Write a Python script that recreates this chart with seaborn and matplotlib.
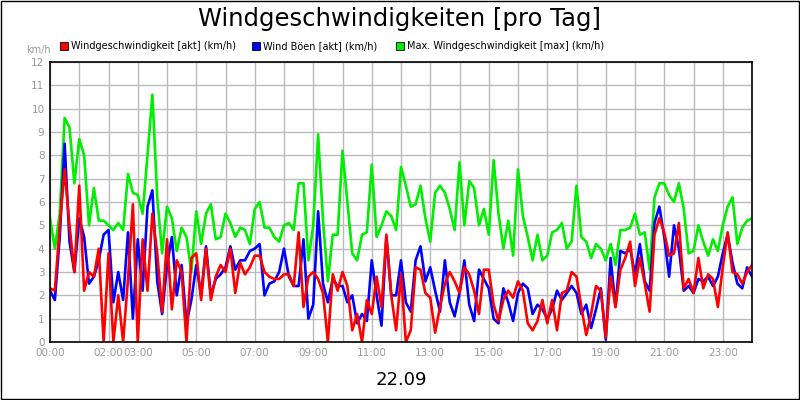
import numpy as np
import pandas as pd
import seaborn as sns
import matplotlib
matplotlib.use("Agg")
import matplotlib.pyplot as plt
from matplotlib.patches import Rectangle

wind_akt = [2.3,2.2,5.0,7.4,5.0,3.0,6.7,2.2,3.0,2.8,4.0,0,3.8,0,2.0,0,2.7,5.9,0,4.4,2.2,5.5,3.8,1.3,4.4,1.4,3.5,3.0,0,3.6,3.8,1.8,4.0,1.8,2.8,3.3,3.0,
            4.0,2.1,3.4,2.9,3.2,3.7,3.7,3.0,2.8,2.7,2.7,2.9,2.9,2.4,4.7,1.5,2.8,3.0,2.7,2.1,0,2.9,2.2,3.0,2.4,0.5,1.2,0,1.8,1.2,2.8,1.5,4.6,2.0,0.5,2.9,
            0,0.5,3.2,3.1,2.1,1.9,0.4,1.5,2.5,3.0,2.6,2.1,3.2,2.9,2.2,1.2,3.1,3.1,1.6,0.9,1.8,2.2,1.9,2.6,2.2,0.8,0.5,0.9,1.8,0.8,1.8,0.5,2.1,2.2,3.0,2.8,
            1.5,0.3,1.2,2.4,2.2,0.2,2.8,1.5,3.1,3.6,4.3,2.4,3.6,2.5,1.3,4.6,5.3,4.7,3.7,3.8,5.1,2.3,2.7,2.1,3.6,2.3,2.9,2.7,1.5,3.2,4.7,3.0,2.9,2.5,3.0,3.3]
boeen_akt = [2.2,1.8,4.5,8.5,4.3,3.0,5.3,4.5,2.5,2.8,3.5,4.6,4.8,1.7,3.0,1.8,4.7,1.0,4.4,2.2,5.8,6.5,2.6,1.2,3.3,4.5,2.0,3.3,0.8,1.8,3.3,2.0,4.1,2.0,2.7,2.9,3.2,
             4.1,3.1,3.5,3.5,3.9,4.0,4.2,2.0,2.5,2.6,3.0,4.0,2.8,2.4,2.4,4.4,1.0,1.6,5.6,2.5,1.7,2.7,2.4,2.4,1.7,2.0,0.8,1.2,0.9,3.5,2.0,0.7,4.5,2.0,2.0,3.5,
             1.7,1.3,3.5,4.1,2.6,3.2,2.2,1.3,3.5,1.7,1.1,2.1,3.5,1.6,0.9,3.1,2.7,2.3,1.0,0.8,2.3,1.7,0.9,2.1,2.5,2.3,1.2,1.6,1.4,1.0,1.4,2.2,1.8,2.1,2.4,2.1,
             1.2,1.6,0.6,1.4,2.3,0.1,3.6,1.5,3.9,3.8,4.0,2.9,4.2,2.6,2.2,5.1,5.8,4.5,2.8,5.0,4.0,2.2,2.4,2.1,2.7,2.6,2.8,2.4,2.8,3.8,4.6,3.4,2.5,2.3,3.2,2.8]
wind_max = [5.3,4.0,5.5,9.6,9.2,6.8,8.7,8.0,5.0,6.6,5.2,5.2,5.0,4.8,5.1,4.8,7.2,6.4,6.3,5.5,8.0,10.6,6.2,3.8,5.8,5.3,3.9,4.9,4.5,3.0,5.6,4.2,5.5,5.9,4.4,4.5,5.5,
            5.1,4.5,4.9,4.8,4.2,5.7,6.0,4.9,4.9,4.5,4.3,5.0,5.1,4.8,6.8,6.8,3.5,5.0,8.9,5.2,2.6,4.6,4.6,8.2,6.0,3.8,3.5,4.6,4.7,7.6,4.5,5.0,5.6,5.4,4.8,7.5,
            6.7,5.8,5.9,6.7,5.3,4.3,6.4,6.7,6.4,5.7,4.8,7.7,5.0,6.9,6.6,5.0,5.7,4.6,7.8,5.5,4.0,5.2,3.7,7.4,5.4,4.5,3.5,4.6,3.5,3.7,4.7,4.8,5.1,4.0,4.3,6.7,
            4.5,4.3,3.6,4.2,4.0,3.5,4.2,3.3,4.8,4.8,4.9,5.5,4.6,4.7,3.1,6.2,6.8,6.8,6.3,6.0,6.8,5.7,3.8,3.9,5.0,4.3,3.7,4.4,3.9,5.0,5.8,6.2,4.2,4.9,5.2,5.3]

names = ["Windgeschwindigkeit [akt] (km/h)", "Wind Böen [akt] (km/h)",
         "Max. Windgeschwindigkeit [max] (km/h)"]
colors = ["#ff0000", "#0000ff", "#00ee00"]
tick_hours = [0, 2, 3, 5, 7, 9, 11, 13, 15, 17, 19, 21, 23]
tick_labels = ["00:00", "02:00", "03:00", "05:00", "07:00", "09:00", "11:00",
               "13:00", "15:00", "17:00", "19:00", "21:00", "23:00"]

frames = []
for n, s in zip(names, [wind_akt, boeen_akt, wind_max]):
    frames.append(pd.DataFrame({"t": np.linspace(0, 24, len(s)), "v": s, "s": n}))
df = pd.concat(frames)

fig = plt.figure(figsize=(8, 4), dpi=100, facecolor="white")
ax = fig.add_axes([0.0625, 0.145, 0.8775, 0.70])
order = [names[2], names[1], names[0]]
sns.lineplot(data=df, x="t", y="v", hue="s", hue_order=order,
             palette=dict(zip(names, colors)), lw=1.9, ax=ax, legend=False,
             estimator=None, sort=False)
ax.set_xlim(0, 24)
ax.set_ylim(0, 12)
ax.set_yticks(range(0, 13))
ax.set_xticks(range(0, 25), minor=True)
ax.set_xticks(tick_hours)
ax.set_xticklabels(tick_labels)
ax.grid(True, which="both", color="#bbbbbb", lw=1)
ax.set_axisbelow(True)
ax.tick_params(which="both", length=0, labelsize=7.5, labelcolor="#999999", pad=4)
ax.set_xlabel("22.09", fontsize=13, labelpad=10)
ax.set_ylabel("")
for sp in ax.spines.values():
    sp.set_color("black"); sp.set_linewidth(1.2)

fig.text(0.5, 0.953, "Windgeschwindigkeiten [pro Tag]", ha="center", va="center", fontsize=17.5)
fig.text(0.033, 0.875, "km/h", fontsize=7, color="#999999", va="center")
lx = [0.075, 0.315, 0.495]
for x, n, c in zip(lx, names, colors):
    fig.patches.append(Rectangle((x, 0.876), 0.01, 0.02, transform=fig.transFigure,
                                 facecolor=c, edgecolor="black", lw=0.6))
    fig.text(x + 0.014, 0.886, n, fontsize=7, va="center")
fig.patches.append(Rectangle((0.001, 0.002), 0.998, 0.996, transform=fig.transFigure,
                             fill=False, edgecolor="black", lw=1))
fig.savefig("out.png", dpi=100)
